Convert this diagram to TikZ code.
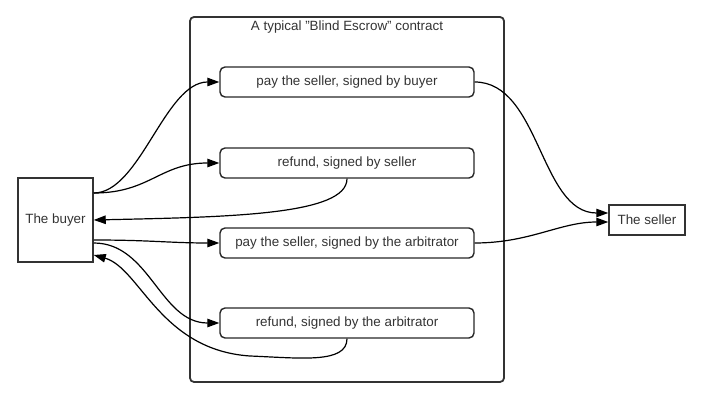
\documentclass[tikz,border=0pt]{standalone}
\usepackage{fontspec}
\setmainfont{Liberation Sans}
\usetikzlibrary{arrows.meta}
\definecolor{ink}{HTML}{333333}
\tikzset{
  base/.style={font=\fontsize{13.4}{15}\selectfont, text=ink, inner sep=0pt},
  party/.style={base, draw=ink, line width=1.5pt},
  clause/.style={base, draw=black!85, line width=1.4pt, rounded corners=5pt, minimum width=254pt, minimum height=30pt},
  frame/.style={draw=ink, line width=1.8pt, rounded corners=4pt, minimum width=314pt, minimum height=365pt, inner sep=0pt},
  link/.style={draw=black, line width=1.2pt, -{Triangle[length=12pt,width=8.5pt]}},
}
\begin{document}
\begin{tikzpicture}[x=1pt,y=-1pt]
\useasboundingbox (0,0) rectangle (716,406);
\node[frame] (contract) at (347,199.5) {};
\node[base] (title) at (347,27) {A typical "Blind Escrow" contract};
\node[party, minimum width=75pt, minimum height=84pt] (buyer) at (55.5,220) {The buyer};
\node[party, minimum width=76pt, minimum height=30pt] (seller) at (647,220) {The seller};
\node[clause] (c1) at (347,82) {pay the seller, signed by buyer};
\node[clause] (c2) at (347,163) {refund, signed by seller};
\node[clause] (c3) at (347,243) {pay the seller, signed by the arbitrator};
\node[clause] (c4) at (347,323) {refund, signed by the arbitrator};

\draw[link] ([yshift=27pt]buyer.east) .. controls (140,193) and (165,82) .. (c1.west);
\draw[link] ([yshift=27pt]buyer.east) .. controls (150,193) and (160,163) .. (c2.west);
\draw[link] (c2.south) .. controls (347,215) and (230,217) .. (buyer.east);
\draw[link] ([yshift=-20pt]buyer.east) .. controls (150,240) and (170,243) .. (c3.west);
\draw[link] ([yshift=-23pt]buyer.east) .. controls (150,243) and (160,323) .. (c4.west);
\draw[link] (c4.south) .. controls (347,364) and (300,358) .. (250,356)
   .. controls (160,350) and (140,268) .. ([yshift=-35pt]buyer.east);
\draw[link] (c1.east) .. controls (540,82) and (540,213) .. ([yshift=7pt]seller.west);
\draw[link] (c3.east) .. controls (530,243) and (560,222) .. ([yshift=-2pt]seller.west);
\end{tikzpicture}
\end{document}
